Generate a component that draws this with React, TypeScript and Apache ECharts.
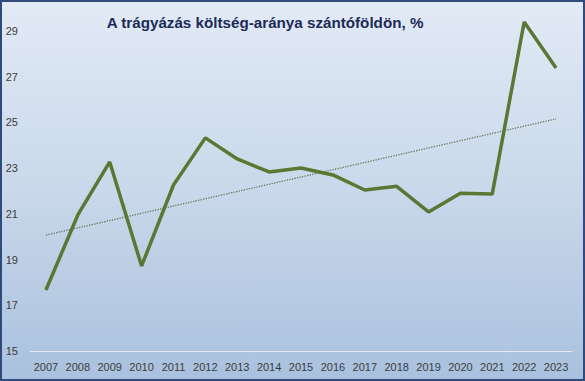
import React, { useEffect, useRef } from "react";
import * as echarts from "echarts";

const years = ["2007","2008","2009","2010","2011","2012","2013","2014","2015","2016","2017","2018","2019","2020","2021","2022","2023"];
const costShare = [17.67, 20.95, 23.27, 18.72, 22.26, 24.32, 23.4, 22.83, 23.0, 22.7, 22.04, 22.2, 21.08, 21.9, 21.87, 29.39, 27.38];
const trendEnds = [20.07, 25.15];
const titleText = "A trágyázás költség-aránya szántóföldön, %";

export default function App() {
  const ref = useRef<HTMLDivElement>(null);
  useEffect(() => {
    const chart = echarts.init(ref.current!, null, { renderer: "svg" });
    const trendData = years.map((_, i) => (i === 0 ? trendEnds[0] : i === years.length - 1 ? trendEnds[1] : null));
    chart.setOption({
      animation: false,
      backgroundColor: "transparent",
      title: {
        text: titleText,
        left: 260,
        top: 10,
        textAlign: "center",
        textStyle: { fontFamily: "Liberation Sans", fontWeight: "bold", fontSize: 15.2, color: "#1c2a58" },
      },
      grid: { left: 30, right: 13, top: 8, bottom: 30 },
      xAxis: {
        type: "category",
        data: years,
        boundaryGap: true,
        axisLine: { show: true, lineStyle: { color: "#e3ebf5", width: 1 } },
        axisTick: { show: false },
        axisLabel: { color: "#3c3c3c", fontFamily: "Liberation Sans", fontSize: 11, margin: 10, interval: 0 },
        splitLine: { show: false },
      },
      yAxis: {
        type: "value",
        min: 15,
        max: 30,
        interval: 2,
        axisLine: { show: false },
        axisTick: { show: false },
        splitLine: { show: false },
        axisLabel: { color: "#3c3c3c", fontFamily: "Liberation Sans", fontSize: 11, margin: 12, showMaxLabel: false },
      },
      series: [
        {
          type: "line",
          data: trendData,
          connectNulls: true,
          symbol: "none",
          lineStyle: { color: "#66775a", width: 1.3, type: "dotted" },
          z: 1,
        },
        {
          type: "line",
          data: costShare,
          symbol: "none",
          lineStyle: { color: "#5a7834", width: 3.5 },
          z: 2,
        },
      ],
    });
    return () => chart.dispose();
  }, []);
  return (
    <div
      style={{
        position: "fixed",
        left: 0,
        top: 0,
        width: 585,
        height: 381,
        background: "linear-gradient(to bottom, #e2eaf5 0%, #c9d8ea 50%, #a9c1de 100%)",
      }}
    >
      <div ref={ref} style={{ position: "absolute", left: 0, top: 0, width: 585, height: 381 }} />
      <div
        style={{
          position: "absolute",
          left: 0,
          top: 0,
          width: 585,
          height: 381,
          boxSizing: "border-box",
          border: "2px solid #2f4b7b",
          pointerEvents: "none",
        }}
      />
    </div>
  );
}
